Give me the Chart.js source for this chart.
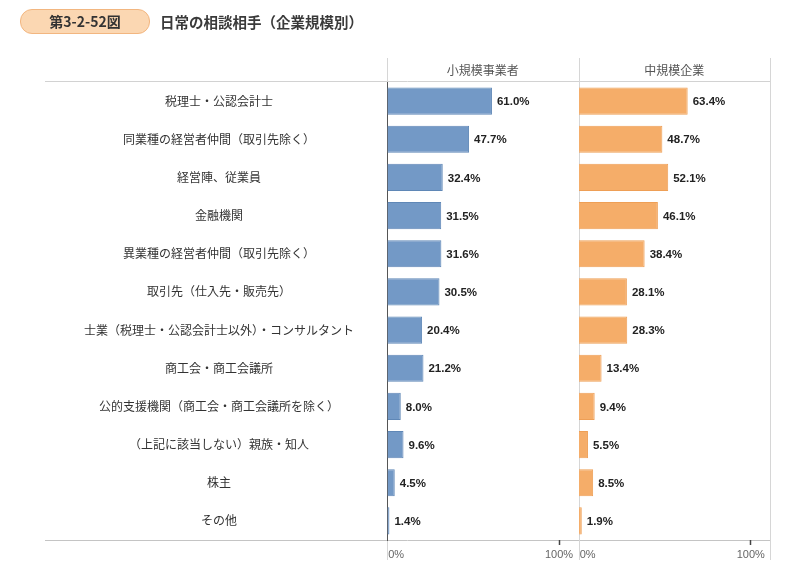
<!DOCTYPE html>
<html>
<head>
<meta charset="utf-8">
<script src="https://cdn.jsdelivr.net/npm/chart.js@4.4.1/dist/chart.umd.min.js"></script>
<style>
  html, body { margin: 0; padding: 0; background: #fff; }
  #wrap { position: relative; width: 800px; height: 572px; overflow: hidden; }
  #c { position: absolute; left: 0; top: 0; }
  #badge {
    position: absolute; left: 20px; top: 9px; width: 128px; height: 23px;
    border-radius: 12px; background: #fbd7b2; border: 1px solid #f2b680;
    font-family: "Noto Sans CJK JP", sans-serif; font-weight: bold; font-size: 14px;
    color: #333; text-align: center; line-height: 23px;
  }
  #title {
    position: absolute; left: 160px; top: 10px;
    font-family: "Noto Sans CJK JP", sans-serif; font-weight: bold; font-size: 14.5px;
    color: #3a3a3a; line-height: 24px; letter-spacing: 0px;
  }
</style>
</head>
<body>
<div id="wrap">
  <canvas id="c" width="800" height="572"></canvas>
  <div id="badge">第3-2-52図</div>
  <div id="title">日常の相談相手（企業規模別）</div>
</div>
<script>
// ---- data ----
const categories = [
  '税理士・公認会計士',
  '同業種の経営者仲間（取引先除く）',
  '経営陣、従業員',
  '金融機関',
  '異業種の経営者仲間（取引先除く）',
  '取引先（仕入先・販売先）',
  '士業（税理士・公認会計士以外）・コンサルタント',
  '商工会・商工会議所',
  '公的支援機関（商工会・商工会議所を除く）',
  '（上記に該当しない）親族・知人',
  '株主',
  'その他'
];
const panelTitles = ['小規模事業者', '中規模企業'];
const smallValues  = [61.0, 47.7, 32.4, 31.5, 31.6, 30.5, 20.4, 21.2, 8.0, 9.6, 4.5, 1.4];
const mediumValues = [63.4, 48.7, 52.1, 46.1, 38.4, 28.1, 28.3, 13.4, 9.4, 5.5, 8.5, 1.9];
const xTickValues = [0, 100];
const xTickLabels = ['0%', '100%'];

// ---- styles ----
const JP = '"Noto Sans CJK JP", "Noto Sans", sans-serif';
const LAT = '"Liberation Sans", Arial, sans-serif';

function xAxis(id) {
  return {
    type: 'linear',
    position: 'bottom',
    stack: 'panels',
    stackWeight: 1,
    min: 0,
    max: id === 'xS' ? 111.3 : 111.2,
    afterBuildTicks: s => { s.ticks = xTickValues.map(v => ({ value: v })); },
    afterFit: s => { s.height = 32; s.paddingLeft = 0; s.paddingRight = 0; },
    border: { display: false },
    grid: {
      drawOnChartArea: false,
      drawTicks: true,
      tickLength: 5,
      tickWidth: 1.5,
      color: ctx => (ctx.tick && ctx.tick.value === 100) ? '#444' : 'rgba(0,0,0,0)'
    },
    ticks: {
      padding: 3,
      color: '#666',
      font: { family: LAT, size: 11 },
      autoSkip: false,
      maxRotation: 0,
      callback: (v) => {
        const i = xTickValues.indexOf(v);
        const lbl = i >= 0 ? xTickLabels[i] : '';
        // shift the 0% label so it sits just right of the panel edge
        return v === 0 ? '      ' + lbl : lbl;
      }
    }
  };
}

const decor = {
  id: 'decor',
  beforeDraw(chart) {
    const { ctx, chartArea: ca, scales } = chart;
    const xs = scales.xS, xm = scales.xM;
    ctx.save();
    ctx.lineWidth = 1;
    ctx.strokeStyle = '#d2d2d2';
    ctx.beginPath();
    ctx.moveTo(45, ca.top - 0.5); ctx.lineTo(xm.right, ca.top - 0.5);
    ctx.stroke();
    ctx.strokeStyle = '#c4c4c4';
    ctx.beginPath();
    ctx.moveTo(45, ca.bottom + 0.5); ctx.lineTo(xm.right, ca.bottom + 0.5);
    ctx.stroke();
    ctx.strokeStyle = '#d6d6d6';
    [xs.left, xm.left, xm.right].forEach(x => {
      const px = Math.round(x) + 0.5;
      ctx.beginPath();
      ctx.moveTo(px, 58); ctx.lineTo(px, ca.bottom + 20);
      ctx.stroke();
    });
    ctx.fillStyle = '#555';
    ctx.font = '12px ' + JP;
    ctx.textAlign = 'center';
    ctx.textBaseline = 'middle';
    ctx.fillText(panelTitles[0], (xs.left + xs.right) / 2, 70);
    ctx.fillText(panelTitles[1], (xm.left + xm.right) / 2, 70);
    ctx.restore();
  },
  afterDatasetsDraw(chart) {
    const { ctx } = chart;
    ctx.save();
    ctx.fillStyle = '#222';
    ctx.font = 'bold 11.5px ' + LAT;
    ctx.textAlign = 'left';
    ctx.textBaseline = 'middle';
    chart.data.datasets.forEach((ds, di) => {
      const meta = chart.getDatasetMeta(di);
      meta.data.forEach((bar, i) => {
        ctx.fillText(ds.data[i].toFixed(1) + '%', bar.x + 5, bar.y + 1);
      });
    });
    ctx.restore();
  }
};

new Chart(document.getElementById('c'), {
  type: 'bar',
  data: {
    labels: categories,
    datasets: [
      {
        label: panelTitles[0], data: smallValues, xAxisID: 'xS', yAxisID: 'y',
        backgroundColor: '#7399c6', borderColor: '#5f87b6', borderWidth: 1,
        grouped: false, barPercentage: 0.71, categoryPercentage: 1
      },
      {
        label: panelTitles[1], data: mediumValues, xAxisID: 'xM', yAxisID: 'y',
        backgroundColor: '#f5ad69', borderColor: '#ee9f56', borderWidth: 1,
        grouped: false, barPercentage: 0.71, categoryPercentage: 1
      }
    ]
  },
  options: {
    indexAxis: 'y',
    responsive: false,
    animation: false,
    devicePixelRatio: 1,
    layout: { padding: { left: 45, right: 30, top: 82, bottom: 0 } },
    plugins: { legend: { display: false }, tooltip: { enabled: false } },
    scales: {
      y: {
        type: 'category',
        position: 'left',
        offset: true,
        afterFit: s => { s.width = 342; s.paddingTop = 0; s.paddingBottom = 0; },
        grid: { display: false, drawTicks: false },
        border: { display: true, color: '#555', width: 1 },
        ticks: {
          crossAlign: 'center',
          padding: 33,
          color: '#333',
          autoSkip: false,
          font: { family: JP, size: 12 }
        }
      },
      xS: xAxis('xS'),
      xM: xAxis('xM')
    }
  },
  plugins: [decor]
});
</script>
</body>
</html>
